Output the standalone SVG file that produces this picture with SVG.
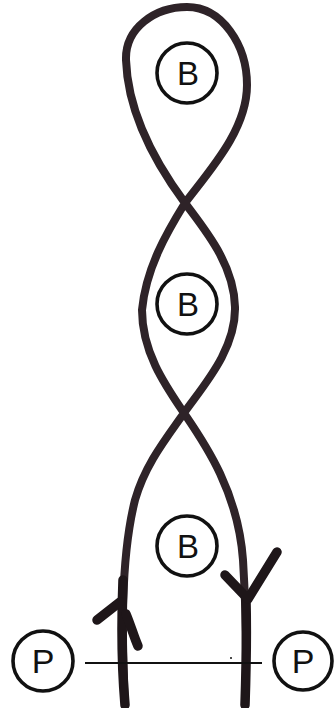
<svg xmlns="http://www.w3.org/2000/svg" width="334" height="708" viewBox="0 0 334 708">
<style>
.strand{fill:none;stroke:#2e2328;stroke-width:8;stroke-linecap:round;stroke-linejoin:round}
.thick{fill:none;stroke:#1e1619;stroke-width:9.5;stroke-linecap:round;stroke-linejoin:round}
.ring{fill:#fff;stroke:#111;stroke-width:3.6}
.lbl{font-family:"Liberation Sans",Arial,sans-serif;fill:#111;text-anchor:middle}
.b{font-size:33px}
.p{font-size:34px}
.rule{stroke:#111;stroke-width:2}
</style>
<rect width="334" height="708" fill="#fff"/>
<g id="connectors">
<path class="strand" d="M125,705 C122,640 120,560 135,500 C145,465 165,440 184,413 C203,386 236,350 235,307 C234,264 205,230 185,203 C165,176 128,120 126,60 C125,28 155,7 187,7 C222,7 247,45 247,85 C247,130 210,170 185,203 C167,232 146,268 142,310 C142,352 165,385 184,413 C203,441 238,490 243,560 C246,610 247,660 245,705"/>
<path class="thick" d="M123,580 C121,630 122,670 125,705"/>
<path class="thick" d="M246,600 C247,640 246,675 245,705"/>
<path class="thick" d="M97,620 L120,602"/>
<path class="thick" d="M126,614 C131,626 134,637 138,646"/>
<path class="thick" d="M225,575 L248,599 L277,552"/>
<line class="rule" x1="85" y1="663" x2="262" y2="663"/>
<circle cx="231" cy="658" r="1" fill="#111"/>
</g>
<g id="B1"><circle class="ring" cx="187" cy="73" r="30"/><text class="lbl b" x="188" y="85">B</text></g>
<g id="B2"><circle class="ring" cx="187" cy="304" r="30"/><text class="lbl b" x="188" y="316">B</text></g>
<g id="B3"><circle class="ring" cx="187" cy="546" r="30"/><text class="lbl b" x="188" y="558">B</text></g>
<g id="P1"><circle class="ring" cx="43" cy="661" r="30"/><text class="lbl p" x="43" y="673">P</text></g>
<g id="P2"><circle class="ring" cx="303" cy="661" r="29"/><text class="lbl p" x="303" y="673">P</text></g>
</svg>
